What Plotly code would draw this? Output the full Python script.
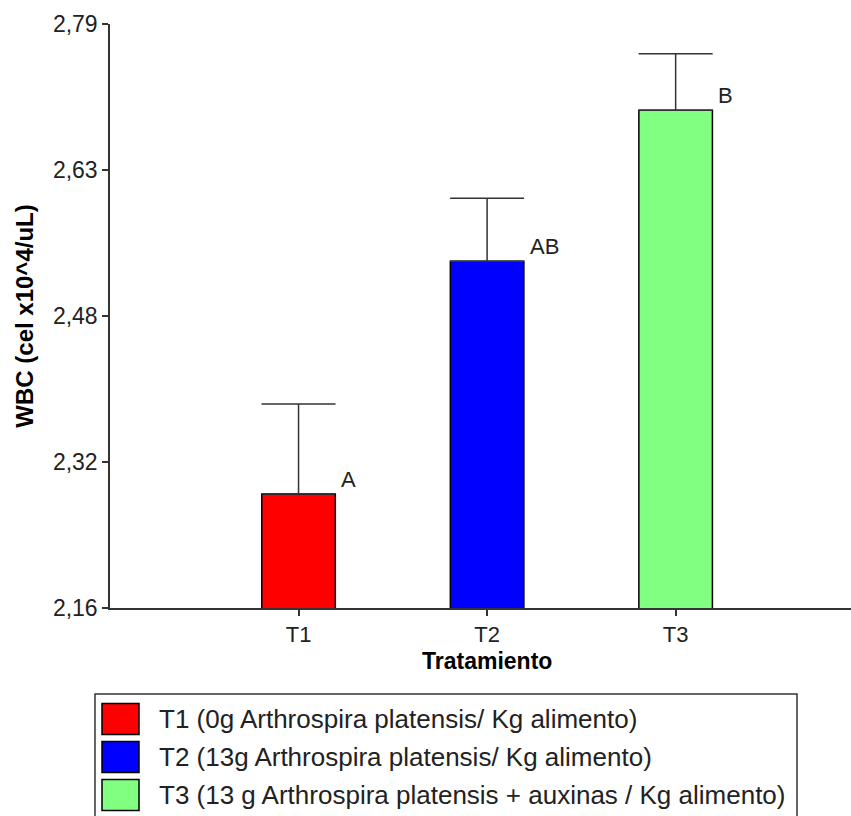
import plotly.graph_objects as go

# ---- data ----
categories = ["T1", "T2", "T3"]
means = [2.283, 2.534, 2.697]
errors = [0.097, 0.068, 0.061]
letters = ["A", "AB", "B"]
colors = ["#FF0000", "#0000FF", "#80FF80"]
legend_labels = [
    "T1 (0g Arthrospira platensis/ Kg alimento)",
    "T2 (13g Arthrospira platensis/ Kg alimento)",
    "T3 (13 g Arthrospira platensis + auxinas / Kg alimento)",
]
y_tick_labels = ["2,16", "2,32", "2,48", "2,63", "2,79"]
y_min, y_max = 2.16, 2.79

W, H = 851, 816
ML, MR, MT, MB = 110, 0, 24, 208
PW, PH = W - ML - MR, H - MT - MB
FONT = "Liberation Sans, Arial, sans-serif"
TXT = "#222222"
AX = "#333333"


def px_x(x):
    return (x - ML) / PW


def px_y(y):
    return (H - MB - y) / PH


xpos = [i + 1 for i in range(len(categories))]
n_ticks = len(y_tick_labels)
y_tick_vals = [y_min + k * (y_max - y_min) / (n_ticks - 1) for k in range(n_ticks)]

fig = go.Figure()
fig.add_trace(go.Bar(
    x=xpos, y=means, width=0.39,
    marker=dict(color=colors, line=dict(color="#000000", width=1.5)),
    error_y=dict(type="data", symmetric=False, array=errors,
                 arrayminus=[0] * len(errors), color=AX, thickness=1.5, width=37),
    showlegend=False,
))

annotations = []
for xp, m, lt in zip(xpos, means, letters):
    annotations.append(dict(x=xp + 0.215, y=m, xref="x", yref="y", text=lt,
                            showarrow=False, xanchor="left", yanchor="bottom",
                            font=dict(family=FONT, size=22, color=TXT)))

annotations.append(dict(x=2, y=px_y(661), xref="x", yref="paper",
                        text="<b>Tratamiento</b>", showarrow=False,
                        xanchor="center", yanchor="middle",
                        font=dict(family=FONT, size=23, color="#000000")))

shapes = [dict(type="rect", xref="paper", yref="paper",
               x0=px_x(95), x1=px_x(797), y0=px_y(694), y1=px_y(822),
               line=dict(color=AX, width=1.5), fillcolor="white", layer="above")]
for i, (lab, col) in enumerate(zip(legend_labels, colors)):
    cy = 719 + 38 * i
    shapes.append(dict(type="rect", xref="paper", yref="paper",
                       x0=px_x(102), x1=px_x(139), y0=px_y(cy - 15.5), y1=px_y(cy + 15.5),
                       fillcolor=col, line=dict(color="#000000", width=1.5), layer="above"))
    annotations.append(dict(x=px_x(157), y=px_y(cy), xref="paper", yref="paper",
                            text=lab, showarrow=False, xanchor="left", yanchor="middle",
                            font=dict(family=FONT, size=26, color=TXT)))

fig.update_layout(
    width=W, height=H,
    margin=dict(l=ML, r=MR, t=MT, b=MB, pad=0),
    plot_bgcolor="white", paper_bgcolor="white",
    font=dict(family=FONT, color=TXT),
    showlegend=False,
    xaxis=dict(range=[0, 3.93], tickvals=xpos, ticktext=categories,
               ticks="outside", ticklen=6, tickwidth=1.5, tickcolor=AX,
               showline=True, linecolor=AX, linewidth=1.5,
               showgrid=False, zeroline=False,
               tickfont=dict(family=FONT, size=22, color=TXT)),
    yaxis=dict(range=[y_min, y_max], tickvals=y_tick_vals, ticktext=y_tick_labels,
               ticks="outside", ticklen=6, tickwidth=1.5, tickcolor=AX,
               showline=True, linecolor=AX, linewidth=1.5,
               showgrid=False, zeroline=False,
               tickfont=dict(family=FONT, size=23, color=TXT),
               title=dict(text="<b>WBC (cel x10^4/uL)</b>",
                          font=dict(family=FONT, size=24, color="#000000"),
                          standoff=12)),
    annotations=annotations,
    shapes=shapes,
)

fig.write_html("out.html")
